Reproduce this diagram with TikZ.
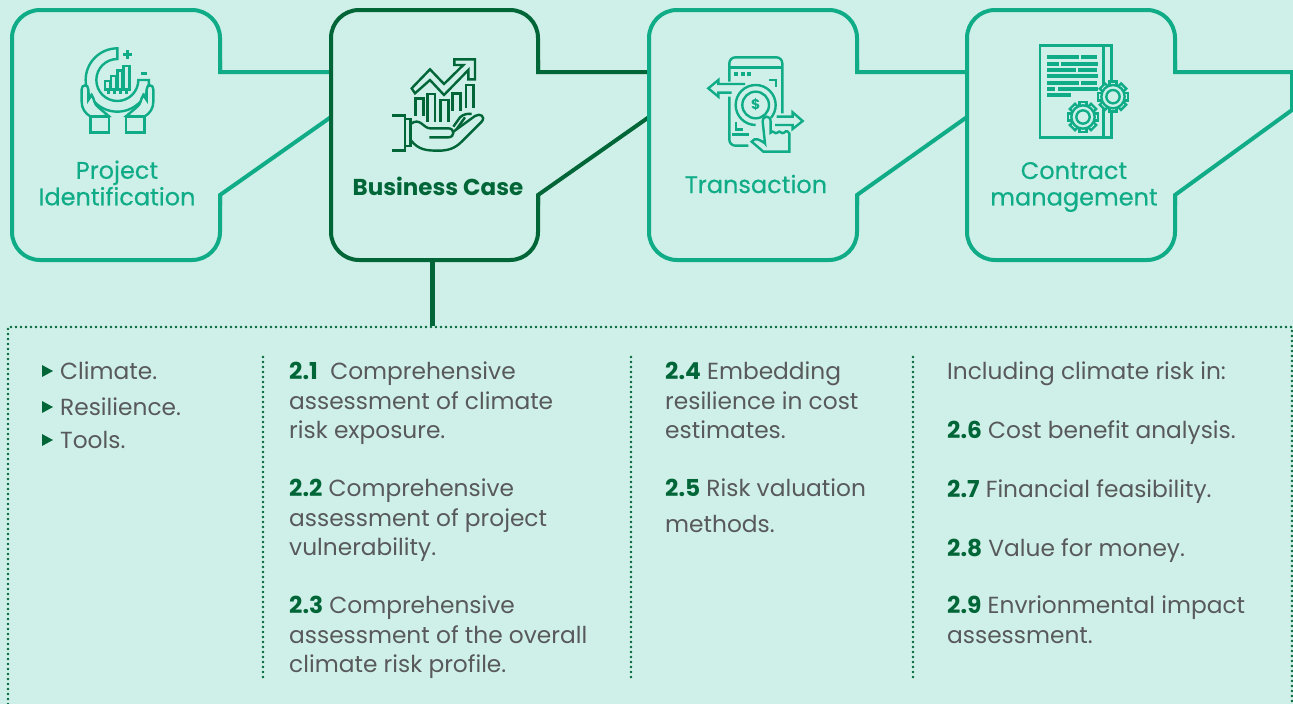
\documentclass[tikz,border=0pt]{standalone}
\usepackage{fontspec}
\setmainfont{Poppins}
\newfontfamily\labelfont{Poppins}[FakeBold=0.4]
\usepackage{tikz}
\usetikzlibrary{calc}

\definecolor{mintbg}{RGB}{207,240,232}
\definecolor{tealline}{RGB}{16,172,136}
\definecolor{darkline}{RGB}{0,102,56}
\definecolor{greytext}{RGB}{88,89,91}

\tikzset{
    stageteal/.style={draw=tealline, line width=4pt, line join=miter},
    stagedark/.style={draw=darkline, line width=4pt, line join=miter},
    dotline/.style={draw=darkline, line width=2.6pt, line cap=round, dash pattern=on 0pt off 5pt},
    iconteal/.style={draw=tealline, line width=2.4pt},
    icondark/.style={draw=darkline, line width=2.4pt},
    stagelabel/.style={text=tealline, font=\labelfont\fontsize{24}{26.5}\selectfont, align=center, inner sep=0pt},
    bodytext/.style={text=greytext, font=\fontsize{23.3}{29.3}\selectfont, align=left, anchor=north west, inner sep=0pt},
}
\newcommand{\num}[1]{\textbf{\textcolor{darkline}{#1}}}
\newcommand{\carehand}{
    \draw[iconteal, fill=mintbg] (272,350) .. controls (255,340) and (245,325) .. (245,305) -- (245,268)
        .. controls (245,252) and (265,252) .. (265,268) -- (265,300) -- (275,285) .. controls (285,300) and (280,310) .. (295,322) -- (326,348) -- cycle;
    \draw[iconteal, fill=mintbg] (272,350) rectangle (327,398);
}
\newcommand{\gearicon}[2]{
    \foreach \a in {0,45,...,315}
        \draw[iconteal, fill=mintbg, rotate around={\a:(#1,#2)}] (#1-11,#2-45) rectangle (#1+11,#2-28);
    \draw[iconteal, fill=mintbg] (#1,#2) circle (35);
    \draw[iconteal] (#1,#2) circle (20);
}

\begin{document}
\begin{tikzpicture}[x=1pt, y=-1pt]
    \useasboundingbox (0,0) rectangle (1293,704);
    \fill[mintbg] (0,0) rectangle (1293,704);

    % corner points of the four stages
    \coordinate (A1) at (220,72);
    \coordinate (A2) at (220,10);
    \coordinate (A3) at (12,10);
    \coordinate (A4) at (12,260);
    \coordinate (A5) at (220,260);
    \coordinate (A6) at (220,195);
    \coordinate (B1) at (538,72);
    \coordinate (B2) at (538,10);
    \coordinate (B3) at (331,10);
    \coordinate (B4) at (331,260);
    \coordinate (B5) at (538,260);
    \coordinate (B6) at (538,195);
    \coordinate (C1) at (857,72);
    \coordinate (C2) at (857,10);
    \coordinate (C3) at (649,10);
    \coordinate (C4) at (649,260);
    \coordinate (C5) at (857,260);
    \coordinate (C6) at (857,195);
    \coordinate (D1) at (1175,72);
    \coordinate (D2) at (1175,10);
    \coordinate (D3) at (967,10);
    \coordinate (D4) at (967,260);
    \coordinate (D5) at (1175,260);
    \coordinate (D6) at (1175,195);
    \coordinate (E1) at (1292,72);
    \coordinate (E2) at (1292,110);

    \draw[stageteal, rounded corners=28pt] (A1) -- (A2) -- (A3) -- (A4) -- (A5) -- (A6);
    \draw[stageteal] (220,60) -- (A1) -- (B3 |- A1) (220,205) -- (A6) -- (331,117);
    \draw[stagedark, rounded corners=28pt] (B1) -- (B2) -- (B3) -- (B4) -- (B5) -- (B6);
    \draw[stagedark] (538,60) -- (B1) -- (C3 |- B1) (538,205) -- (B6) -- (649,117);
    \draw[stageteal, rounded corners=28pt] (C1) -- (C2) -- (C3) -- (C4) -- (C5) -- (C6);
    \draw[stageteal] (857,60) -- (C1) -- (D3 |- C1) (857,205) -- (C6) -- (967,117);
    \draw[stageteal, rounded corners=28pt] (D1) -- (D2) -- (D3) -- (D4) -- (D5) -- (D6);
    \draw[stageteal] (1175,60) -- (D1) -- (E1) -- (E2) -- (D6) -- (1175,205);

    % stem and dotted frame
    \coordinate (S1) at (432,260);
    \coordinate (S2) at (432,326);
    \draw[darkline, line width=5pt] (S1) -- (S2);
    \draw[dotline] (8,704) -- (8,327) -- (1292,327) -- (1292,704);
    \draw[dotline] (263,357) -- (263,678);
    \draw[dotline] (631,357) -- (631,678);
    \draw[dotline] (913,357) -- (913,678);

    % stage labels
    \node[stagelabel] (labelA) at (117,183) {Project\\Identification};
    \node[stagelabel, text=darkline, font=\fontsize{23}{26}\selectfont\bfseries] (labelB) at (438,186) {Business Case};
    \node[stagelabel] (labelC) at (756,184) {Transaction};
    \node[stagelabel] (labelD) at (1074,187) {Contract\\management};

    % first icon
    \begin{scope}[scale=1/3]
        \draw[iconteal] (352,145) arc (-90:-360:95) -- (415,240) arc (0:270:63) -- cycle;
        \draw[iconteal] (315,243) rectangle (330,268);
        \draw[iconteal] (333,268) -- (333,228) -- (348,228) -- (348,268);
        \draw[iconteal] (352,268) -- (352,212) -- (368,212) -- (368,268);
        \draw[iconteal] (370,268) -- (370,198) -- (388,198) -- (388,268) -- (315,268);
        \foreach \x in {325,344,362,380}
            \fill[tealline] (\x-4,273) rectangle (\x+4,281);
        \fill[tealline] (369,160) rectangle (396,167);
        \fill[tealline] (379,150) rectangle (386,177);
        \fill[tealline] (423,216) rectangle (441,224);
        \carehand
    \end{scope}
    \begin{scope}[shift={(235,0)}, xscale=-1, scale=1/3]
        \carehand
    \end{scope}

    % second icon
    \begin{scope}[shift={(320,0)}, scale=1/3]
        \draw[icondark] (275,265) -- (330,208) -- (372,252) -- (430,195) -- (403,195) -- (403,178) -- (465,178) -- (465,238) -- (445,238) -- (445,210) -- (372,285) -- (330,240) -- (285,280) -- cycle;
        \draw[icondark] (287,348) -- (287,295) -- (310,295) -- (310,348);
        \draw[icondark] (322,365) -- (322,282) -- (345,282) -- (345,365);
        \draw[icondark] (362,365) -- (362,300) -- (385,300) -- (385,365);
        \draw[icondark] (398,332) -- (398,280) -- (422,280) -- (422,332);
        \draw[icondark] (438,325) -- (438,255) -- (460,255) -- (460,325);
        \draw[icondark] (215,347) -- (255,347) -- (255,452) -- (215,452);
        \draw[icondark] (255,357) -- (272,357) -- (272,438) -- (255,438);
        \draw[icondark] (272,372) .. controls (300,350) and (310,385) .. (330,385) -- (385,385) .. controls (405,385) and (405,412) .. (385,412) -- (328,412);
        \draw[icondark] (272,420) .. controls (295,450) and (320,452) .. (355,452) .. controls (385,452) and (405,445) .. (425,425) -- (485,365) .. controls (498,350) and (480,338) .. (465,348) -- (400,395);
        \draw[icondark] (400,380) -- (420,352) .. controls (430,342) and (445,340) .. (455,342);
        \draw[icondark] (408,390) -- (435,352);
    \end{scope}

    % third icon
    \begin{scope}[shift={(650,0)}, scale=1/3]
        \draw[iconteal, rounded corners=6pt] (238,290) -- (238,437) -- (295,437);
        \draw[iconteal, rounded corners=6pt] (238,245) -- (238,172) -- (397,172) -- (397,340);
        \draw[iconteal] (238,203) -- (397,203);
        \draw[iconteal] (245,403) -- (297,403);
        \foreach \x in {258,279,297}
            \fill[tealline] (\x-6,216) rectangle (\x+6,228);
        \draw[iconteal] (357,240) -- (378,240) -- (378,262);
        \draw[iconteal] (258,367) -- (258,388) -- (278,388);
        \draw[iconteal] (317,315) circle (40);
        \draw[iconteal] (317,375) arc (90:270:60) arc (-90:40:60);
        \node[text=tealline, font=\fontsize{14}{14}\selectfont\bfseries, inner sep=0pt] (coin) at (317,315) {\$};
        \draw[iconteal] (285,252) -- (205,252) -- (205,240) -- (175,265) -- (205,290) -- (205,278) -- (245,278);
        \draw[iconteal] (380,350) -- (428,350) -- (428,337) -- (458,363) -- (428,387) -- (428,375) -- (375,375);
        \draw[iconteal, fill=mintbg] (345,430) -- (338,365) .. controls (338,345) and (362,345) .. (362,365) -- (362,398) .. controls (370,388) and (375,405) .. (382,398) .. controls (390,388) and (395,405) .. (402,398) .. controls (408,390) and (418,395) .. (418,400) -- (418,455) -- (340,455) -- (305,425) .. controls (315,410) and (330,420) .. cycle;
    \end{scope}

    % fourth icon
    \begin{scope}[shift={(960,0)}, scale=1/3]
        \draw[iconteal] (240,137) rectangle (455,413);
        \draw[iconteal] (430,137) -- (430,413);
        \fill[tealline] (261,165) rectangle (357,177);
        \fill[tealline] (363,165) rectangle (411,177);
        \fill[tealline] (261,186) rectangle (297,198);
        \fill[tealline] (303,186) rectangle (414,198);
        \fill[tealline] (261,204) rectangle (348,216);
        \fill[tealline] (354,204) rectangle (411,216);
        \fill[tealline] (261,222) rectangle (414,234);
        \fill[tealline] (261,243) rectangle (357,255);
        \fill[tealline] (363,243) rectangle (411,255);
        \fill[tealline] (261,261) rectangle (285,273);
        \fill[tealline] (294,261) rectangle (414,273);
        \fill[tealline] (261,279) rectangle (333,291);
        \gearicon{459}{290}
        \gearicon{369}{351}
    \end{scope}

    % first column
    \fill[darkline] (42,365) -- (53,371) -- (42,377) -- cycle;
    \fill[darkline] (42,401) -- (53,407) -- (42,413) -- cycle;
    \fill[darkline] (42,434) -- (53,440) -- (42,446) -- cycle;
    \node[bodytext] (itemA) at (60,362) {Climate.};
    \node[bodytext] (itemB) at (60,398) {Resilience.};
    \node[bodytext] (itemC) at (60,431) {Tools.};

    % second column
    \node[bodytext] (textA) at (289,362) {\num{2.1}\ \ Comprehensive\\assessment of climate\\risk exposure.};
    \node[bodytext] (textB) at (289,479) {\num{2.2} Comprehensive\\assessment of project\\vulnerability.};
    \node[bodytext] (textC) at (289,596) {\num{2.3} Comprehensive\\assessment of the overall\\climate risk profile.};

    % third column
    \node[bodytext] (textD) at (665,362) {\num{2.4} Embedding\\resilience in cost\\estimates.};
    \node[bodytext] (textE) at (665,479) {\num{2.5} Risk valuation};
    \node[bodytext] (textF) at (665,515) {methods.};

    % fourth column
    \node[bodytext] (textG) at (947,362) {Including climate risk in:};
    \node[bodytext] (textH) at (947,420) {\num{2.6} Cost benefit analysis.};
    \node[bodytext] (textI) at (947,479) {\num{2.7} Financial feasibility.};
    \node[bodytext] (textJ) at (947,538) {\num{2.8} Value for money.};
    \node[bodytext] (textK) at (947,596) {\num{2.9} Envrionmental impact\\assessment.};
\end{tikzpicture}
\end{document}
